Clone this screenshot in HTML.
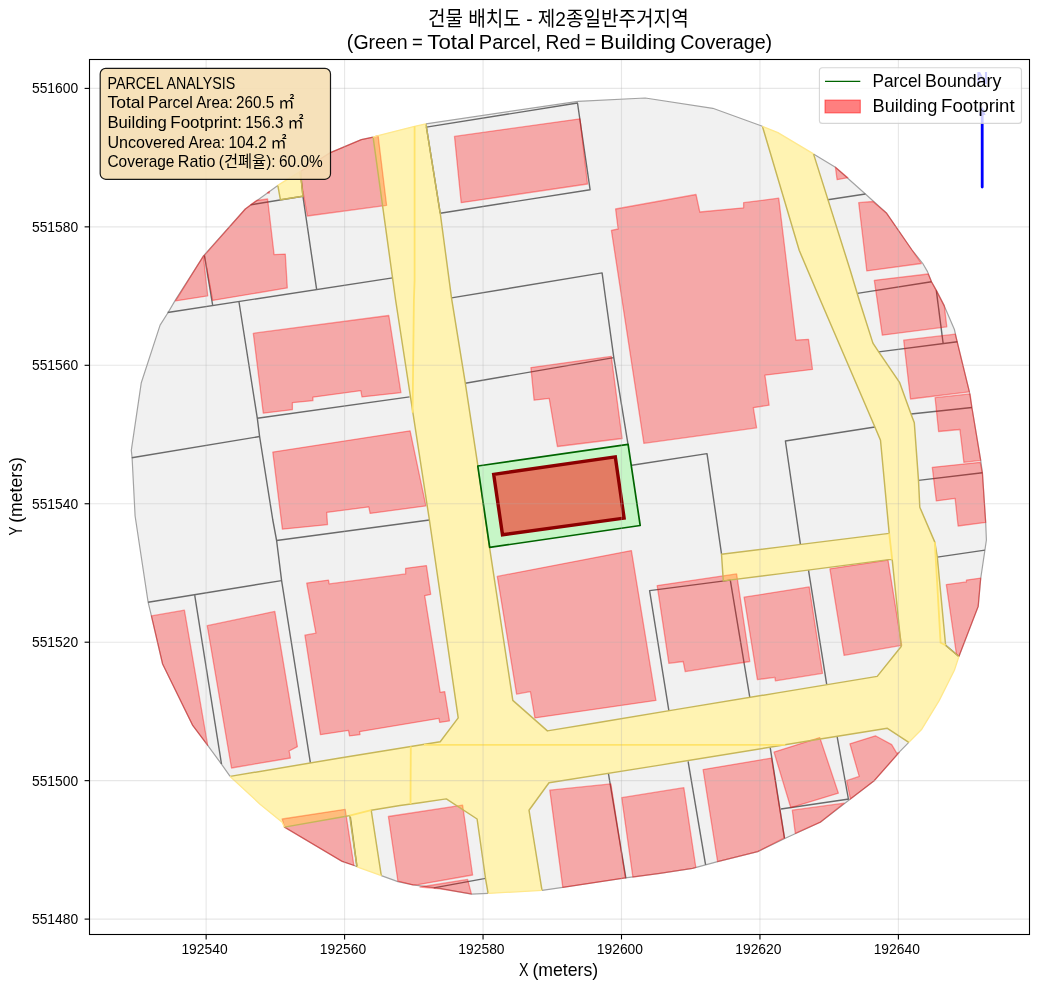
<!DOCTYPE html>
<html lang="ko"><head><meta charset="utf-8"><title>Building layout map</title>
<style>html,body{margin:0;padding:0;background:#fff}body{width:1039px;height:990px;overflow:hidden}svg{display:block}text{font-family:"Liberation Sans","Noto Sans CJK KR",sans-serif;white-space:pre}</style></head><body>
<svg style="will-change:transform" width="1039" height="990" viewBox="0 0 1039 990">
<rect width="1039" height="990" fill="#fff"/>
<defs><clipPath id="ax"><rect x="89.5" y="59.5" width="940.0" height="875.0"/></clipPath></defs>
<g clip-path="url(#ax)" stroke-linejoin="round">
<polygon points="373.1,137.1 378.1,135.6 414.6,126.3 425.9,123.8 578.0,101.3 645.2,98.0 712.8,108.3 762.4,126.3 777.9,132.6 813.5,153.9 835.4,167.2 865.4,194.0 886.7,213.3 912.0,250.0 922.8,263.5 927.5,271.6 931.5,281.7 936.3,290.4 944.3,305.9 954.4,329.5 957.1,341.6 969.4,391.8 971.9,407.5 980.7,460.3 982.4,472.8 985.7,522.7 986.4,540.0 984.9,550.1 980.7,578.5 978.2,606.4 958.9,656.5 954.4,670.3 939.3,700.4 921.8,729.2 908.8,742.4 899.2,752.2 874.2,780.7 850.4,799.0 820.3,822.2 785.3,838.3 757.7,851.6 717.6,861.6 692.6,868.3 660.0,873.3 625.4,877.9 562.8,887.4 542.0,890.4 488.1,893.4 471.4,894.1 440.0,888.4 413.0,884.9 397.9,881.6 381.3,875.6 357.0,866.8 354.3,865.5 342.2,861.4 284.3,827.1 282.2,822.3 260.0,804.2 230.1,776.4 221.3,763.9 207.7,745.4 192.7,725.4 162.6,664.0 151.4,615.9 148.1,602.2 135.1,516.0 132.1,457.8 131.3,450.3 141.3,382.7 160.1,325.1 168.1,312.5 175.2,300.4 203.9,255.4 245.3,209.0 251.5,204.5 277.8,185.4 300.4,171.4 330.4,152.6 361.3,139.6" fill="#f1f1f1"/>
<polygon points="373.1,137.1 378.1,135.6 414.6,126.3 425.9,123.8 440.2,212.8 451.5,297.9 465.3,383.2 477.8,465.3 489.5,547.1 512.8,700.4 547.4,730.9 600.0,722.3 680.0,708.9 779.0,692.6 877.2,676.4 901.2,646.5 892.2,559.6 888.7,559.6 779.0,573.9 723.3,580.9 721.5,554.3 779.0,547.1 889.2,533.4 880.5,440.3 874.9,427.0 820.3,300.0 799.2,250.3 762.4,126.3 777.9,132.6 813.5,153.9 850.0,269.5 859.2,300.0 872.9,343.1 878.7,351.9 899.7,382.7 911.0,414.0 914.3,422.7 918.5,480.4 919.8,507.2 934.8,542.1 937.3,557.1 945.6,645.3 958.9,656.5 954.4,670.3 939.3,700.4 921.8,729.2 908.8,742.4 887.4,728.3 820.3,739.0 660.0,765.1 549.0,782.7 529.0,810.2 542.0,890.4 488.1,893.4 485.6,879.1 477.1,819.0 446.3,798.9 420.0,802.7 400.0,805.5 371.2,810.2 381.3,875.6 357.0,866.8 349.6,815.6 346.3,816.3 284.3,827.1 282.2,822.3 260.0,804.2 230.1,776.4 340.0,758.0 440.2,741.7 458.2,717.9 429.4,520.0 395.6,300.0" fill="#fff"/>
<polygon points="277.8,185.4 300.4,171.4 302.9,196.2 280.4,199.7" fill="#fff"/>
<g fill="none" stroke="#a3a3a3" stroke-width="1.2">
<polyline points="425.9,123.8 578.0,101.3 645.2,98.0 712.8,108.3 762.4,126.3"/>
<polyline points="813.5,153.9 835.4,167.2 865.4,194.0 886.7,213.3 912.0,250.0 922.8,263.5 927.5,271.6 931.5,281.7 936.3,290.4 944.3,305.9 954.4,329.5 957.1,341.6 969.4,391.8 971.9,407.5 980.7,460.3 982.4,472.8 985.7,522.7 986.4,540.0 984.9,550.1 980.7,578.5 978.2,606.4 958.9,656.5"/>
<polyline points="908.8,742.4 899.2,752.2 874.2,780.7 850.4,799.0 820.3,822.2 785.3,838.3 757.7,851.6 717.6,861.6 692.6,868.3 660.0,873.3 625.4,877.9 562.8,887.4 542.0,890.4"/>
<polyline points="488.1,893.4 471.4,894.1 440.0,888.4 413.0,884.9 397.9,881.6 381.3,875.6"/>
<polyline points="357.0,866.8 354.3,865.5 342.2,861.4 284.3,827.1"/>
<polyline points="230.1,776.4 221.3,763.9 207.7,745.4 192.7,725.4 162.6,664.0 151.4,615.9 148.1,602.2 135.1,516.0 132.1,457.8 131.3,450.3 141.3,382.7 160.1,325.1 168.1,312.5 175.2,300.4 203.9,255.4 245.3,209.0 251.5,204.5 277.8,185.4"/>
<polyline points="300.4,171.4 330.4,152.6 361.3,139.6 373.1,137.1"/>
</g>
<g fill="none" stroke="#6a6a6a" stroke-width="1.4">
<polyline points="167.6,312.5 392.6,277.9"/>
<polyline points="204.4,255.4 212.7,305.5"/>
<polyline points="250.7,204.8 302.9,196.2"/>
<polyline points="300.6,172.2 302.9,196.2 316.6,289.2"/>
<polyline points="239.0,302.0 257.3,418.2 259.6,436.5 272.8,520.0 276.6,540.5 281.6,580.6 310.4,762.9"/>
<polyline points="131.8,457.8 259.6,436.5"/>
<polyline points="257.3,418.2 409.6,396.9"/>
<polyline points="276.6,540.5 429.4,520.0"/>
<polyline points="148.1,602.2 281.6,580.6"/>
<polyline points="194.7,595.2 221.5,764.0"/>
<polyline points="440.2,213.3 426.4,127.1 577.5,103.0 590.1,189.7 440.2,213.3"/>
<polyline points="451.5,297.9 602.1,272.9 605.8,300.0 613.8,357.6 628.1,444.8"/>
<polyline points="465.3,383.2 613.8,357.6"/>
<polyline points="631.9,465.3 707.0,453.6 721.5,553.8"/>
<polyline points="800.4,544.2 785.4,441.0 874.9,427.0"/>
<polyline points="827.8,199.7 865.4,194.0"/>
<polyline points="857.4,293.4 931.5,281.7"/>
<polyline points="936.3,290.4 943.1,343.1"/>
<polyline points="878.7,351.9 957.4,341.8"/>
<polyline points="911.0,414.0 971.9,407.5"/>
<polyline points="918.5,480.4 982.4,472.8"/>
<polyline points="937.3,557.1 984.9,550.1"/>
<polyline points="945.6,645.3 958.9,656.5"/>
<polyline points="668.9,710.9 649.6,590.6 730.3,580.1 749.8,697.4"/>
<polyline points="808.5,570.1 826.7,684.3"/>
<polyline points="350.3,816.5 357.0,866.8"/>
<polyline points="433.8,887.9 485.6,878.4"/>
<polyline points="608.4,773.4 625.9,878.4"/>
<polyline points="688.1,761.4 705.6,864.8"/>
<polyline points="770.2,747.6 784.5,838.3"/>
<polyline points="781.0,809.0 849.1,799.0"/>
<polyline points="837.2,737.0 848.4,799.0"/>
</g>
<g fill="#ff0000" fill-opacity="0.3" stroke="#ff0000" stroke-opacity="0.36" stroke-width="1.3">
<polygon points="250.7,204.8 256.5,200.5 267.6,199.0 274.1,254.6 285.3,254.1 287.3,287.9 212.7,300.4 204.4,255.4 245.3,209.0"/>
<polygon points="267.4,192.9 269.4,191.5 269.2,193.2"/>
<polygon points="203.4,255.9 207.7,295.9 175.6,300.9"/>
<polygon points="299.5,172.0 330.4,152.6 361.3,139.6 373.1,137.1 378.1,135.6 386.6,205.3 307.4,216.0"/>
<polygon points="454.5,136.4 580.0,118.8 587.5,184.0 461.2,202.7"/>
<polygon points="615.6,209.0 696.0,194.5 699.8,212.0 743.6,207.8 743.6,202.7 778.7,198.2 795.9,340.1 808.5,339.3 812.5,369.4 764.9,375.2 769.1,405.2 753.3,407.7 756.6,427.8 643.9,443.3 611.4,230.3 618.1,229.0"/>
<polygon points="835.4,167.2 847.9,177.7 837.1,179.7"/>
<polygon points="858.7,202.7 872.9,201.5 886.7,213.3 912.0,250.0 921.4,263.5 866.8,270.9"/>
<polygon points="874.3,280.3 928.2,274.0 931.5,281.7 936.3,290.4 944.3,305.9 946.8,326.8 882.3,335.2"/>
<polygon points="903.7,340.2 955.3,334.2 957.2,341.7 969.4,391.8 910.5,399.0"/>
<polygon points="935.1,397.7 970.1,393.9 971.9,407.7 980.7,460.3 963.9,462.3 959.9,429.5 938.6,431.5"/>
<polygon points="932.3,467.3 980.2,462.3 982.4,472.8 985.7,522.4 958.1,526.0 955.1,498.4 936.3,500.9"/>
<polygon points="946.3,584.6 966.4,581.9 966.4,580.1 980.7,578.1 978.2,606.4 958.9,656.5 956.4,654.0"/>
<polygon points="253.3,333.3 388.8,315.5 400.9,392.7 362.0,396.9 360.8,390.7 312.9,397.2 312.9,400.7 292.4,402.7 292.4,409.7 263.3,413.2"/>
<polygon points="272.8,452.1 410.1,430.8 425.9,505.9 370.1,513.4 368.8,506.9 326.7,512.4 327.5,524.7 282.4,529.2"/>
<polygon points="530.9,367.6 611.3,356.4 622.1,438.5 557.4,446.5 549.2,398.4 534.1,400.2"/>
<polygon points="151.4,615.9 184.4,610.2 207.7,745.4 192.7,725.4 162.6,664.0"/>
<polygon points="207.2,625.7 274.8,611.4 297.4,746.7 289.1,751.0 290.4,758.0 231.5,768.0"/>
<polygon points="306.7,583.1 328.5,580.1 329.2,583.9 405.6,573.9 405.6,568.3 426.4,565.6 430.7,594.4 424.7,595.7 440.2,692.3 444.7,691.6 449.5,720.9 439.7,722.4 438.9,718.4 359.5,731.7 360.0,734.7 349.5,735.9 348.5,730.4 320.4,734.7 304.9,635.2 315.9,633.2"/>
<polygon points="497.3,576.4 631.4,550.6 655.9,700.4 534.9,717.9 530.4,691.6 516.6,694.1"/>
<polygon points="657.2,585.6 736.6,573.9 749.8,661.5 685.2,671.6 683.2,661.5 668.9,663.3"/>
<polygon points="744.1,597.2 809.2,586.9 822.5,673.3 775.4,680.8 774.9,677.3 757.4,679.6"/>
<polygon points="829.9,568.8 888.0,560.1 901.7,645.3 844.1,655.3"/>
<polygon points="774.0,752.1 819.8,737.6 838.4,793.2 790.8,807.7"/>
<polygon points="703.1,769.6 771.5,758.1 784.5,837.8 757.7,851.6 717.6,861.6"/>
<polygon points="849.9,743.8 875.4,735.8 891.7,744.6 896.7,753.1 899.2,752.6 874.2,780.7 850.4,799.0 846.6,780.7 859.2,776.4"/>
<polygon points="282.2,819.0 345.2,809.3 353.9,865.5 342.2,861.4 284.3,827.1"/>
<polygon points="388.4,816.5 462.6,805.2 472.6,875.0 418.0,884.7 413.0,884.9 397.9,881.2"/>
<polygon points="420.0,887.0 467.6,879.4 471.4,893.8 440.0,888.8"/>
<polygon points="549.8,790.2 610.9,783.9 625.4,877.9 562.8,887.4"/>
<polygon points="621.7,797.7 683.8,787.7 695.8,867.3 692.6,868.3 660.0,873.3 632.9,877.1"/>
<polygon points="792.3,810.2 844.1,803.2 820.3,822.2 795.3,833.3"/>
</g>
<polygon points="373.1,137.1 378.1,135.6 414.6,126.3 425.9,123.8 440.2,212.8 451.5,297.9 465.3,383.2 477.8,465.3 489.5,547.1 512.8,700.4 547.4,730.9 600.0,722.3 680.0,708.9 779.0,692.6 877.2,676.4 901.2,646.5 892.2,559.6 888.7,559.6 779.0,573.9 723.3,580.9 721.5,554.3 779.0,547.1 889.2,533.4 880.5,440.3 874.9,427.0 820.3,300.0 799.2,250.3 762.4,126.3 777.9,132.6 813.5,153.9 850.0,269.5 859.2,300.0 872.9,343.1 878.7,351.9 899.7,382.7 911.0,414.0 914.3,422.7 918.5,480.4 919.8,507.2 934.8,542.1 937.3,557.1 945.6,645.3 958.9,656.5 954.4,670.3 939.3,700.4 921.8,729.2 908.8,742.4 887.4,728.3 820.3,739.0 660.0,765.1 549.0,782.7 529.0,810.2 542.0,890.4 488.1,893.4 485.6,879.1 477.1,819.0 446.3,798.9 420.0,802.7 400.0,805.5 371.2,810.2 381.3,875.6 357.0,866.8 349.6,815.6 346.3,816.3 284.3,827.1 282.2,822.3 260.0,804.2 230.1,776.4 340.0,758.0 440.2,741.7 458.2,717.9 429.4,520.0 395.6,300.0" fill="#ffd700" fill-opacity="0.3"/>
<polygon points="277.8,185.4 300.4,171.4 302.9,196.2 280.4,199.7" fill="#ffd700" fill-opacity="0.3"/>
<g fill="none" stroke="#c6b658" stroke-width="1.45">
<polyline points="425.9,123.8 440.2,212.8 451.5,297.9 465.3,383.2 477.8,465.3 489.5,547.1 512.8,700.4 547.4,730.9 600.0,722.3 680.0,708.9 779.0,692.6 877.2,676.4 901.2,646.5 892.2,559.6 888.7,559.6 779.0,573.9 723.3,580.9 721.5,554.3 779.0,547.1 889.2,533.4 880.5,440.3 874.9,427.0 820.3,300.0 799.2,250.3 762.4,126.3"/>
<polyline points="813.5,153.9 850.0,269.5 859.2,300.0 872.9,343.1 878.7,351.9 899.7,382.7 911.0,414.0 914.3,422.7 918.5,480.4 919.8,507.2 934.8,542.1 937.3,557.1 945.6,645.3 958.9,656.5"/>
<polyline points="908.8,742.4 887.4,728.3 820.3,739.0 660.0,765.1 549.0,782.7 529.0,810.2 542.0,890.4"/>
<polyline points="488.1,893.4 485.6,879.1 477.1,819.0 446.3,798.9 420.0,802.7 400.0,805.5 371.2,810.2 381.3,875.6"/>
<polyline points="357.0,866.8 349.6,815.6 346.3,816.3 284.3,827.1"/>
<polyline points="230.1,776.4 340.0,758.0 440.2,741.7 458.2,717.9 429.4,520.0 395.6,300.0 373.1,137.1"/>
<polyline points="300.4,171.4 302.9,196.2 280.4,199.7 277.8,185.4"/>
</g>
<g fill="none" stroke="#ffe88c" stroke-width="1.3">
<polyline points="373.1,137.1 378.1,135.6 414.6,126.3 425.9,123.8"/>
<polyline points="762.4,126.3 777.9,132.6 813.5,153.9"/>
<polyline points="958.9,656.5 954.4,670.3 939.3,700.4 921.8,729.2 908.8,742.4"/>
<polyline points="542.0,890.4 488.1,893.4"/>
<polyline points="381.3,875.6 357.0,866.8"/>
<polyline points="284.3,827.1 282.2,822.3 260.0,804.2 230.1,776.4"/>
<polyline points="277.8,185.4 300.4,171.4"/>
</g>
<g fill="none" stroke="#ffe36a" stroke-width="1.8">
<polyline points="414.6,126.3 414.6,280.4 413.9,300.0 412.6,412.7"/>
<polyline points="424.0,744.9 785.3,744.9"/>
<polyline points="410.8,746.5 410.5,804.0"/>
<polyline points="889.2,533.4 892.2,559.6"/>
<polyline points="934.8,542.1 940.6,642.7 945.6,645.3"/>
<polyline points="349.6,815.6 371.2,810.2"/>
</g>
<polygon points="477.8,466.0 628.1,444.3 640.2,525.5 489.7,547.4" fill="#c7f6c7" stroke="#006400" stroke-width="1.7"/>
<polygon points="493.7,474.4 615.3,456.9 624.1,518.1 502.5,534.8" fill="#ff0000" fill-opacity="0.5" stroke="#8b0000" stroke-width="3.4" stroke-linejoin="miter"/>
<g stroke="#b0b0b0" stroke-opacity="0.3" stroke-width="1.1">
<line x1="206.15" y1="59.5" x2="206.15" y2="934.5"/>
<line x1="344.60" y1="59.5" x2="344.60" y2="934.5"/>
<line x1="483.05" y1="59.5" x2="483.05" y2="934.5"/>
<line x1="621.50" y1="59.5" x2="621.50" y2="934.5"/>
<line x1="759.95" y1="59.5" x2="759.95" y2="934.5"/>
<line x1="898.40" y1="59.5" x2="898.40" y2="934.5"/>
<line x1="89.5" y1="88.40" x2="1029.5" y2="88.40"/>
<line x1="89.5" y1="226.85" x2="1029.5" y2="226.85"/>
<line x1="89.5" y1="365.30" x2="1029.5" y2="365.30"/>
<line x1="89.5" y1="503.75" x2="1029.5" y2="503.75"/>
<line x1="89.5" y1="642.20" x2="1029.5" y2="642.20"/>
<line x1="89.5" y1="780.65" x2="1029.5" y2="780.65"/>
<line x1="89.5" y1="919.10" x2="1029.5" y2="919.10"/>
</g>
<line x1="982.2" y1="187" x2="982.2" y2="110" stroke="#0000ff" stroke-width="2.8" stroke-linecap="round"/>
<polygon points="982.2,106.5 985.6,115 978.8,115" fill="#0000ff"/>
<text x="982.2" y="84" font-size="16.5" font-weight="bold" fill="#0000ff" text-anchor="middle">N</text>
</g>
<rect x="89.5" y="59.5" width="940.0" height="875.0" fill="none" stroke="#000" stroke-width="1.1"/>
<g stroke="#000" stroke-width="1.1">
<line x1="206.15" y1="934.5" x2="206.15" y2="939.4"/>
<line x1="344.60" y1="934.5" x2="344.60" y2="939.4"/>
<line x1="483.05" y1="934.5" x2="483.05" y2="939.4"/>
<line x1="621.50" y1="934.5" x2="621.50" y2="939.4"/>
<line x1="759.95" y1="934.5" x2="759.95" y2="939.4"/>
<line x1="898.40" y1="934.5" x2="898.40" y2="939.4"/>
<line x1="84.6" y1="88.40" x2="89.5" y2="88.40"/>
<line x1="84.6" y1="226.85" x2="89.5" y2="226.85"/>
<line x1="84.6" y1="365.30" x2="89.5" y2="365.30"/>
<line x1="84.6" y1="503.75" x2="89.5" y2="503.75"/>
<line x1="84.6" y1="642.20" x2="89.5" y2="642.20"/>
<line x1="84.6" y1="780.65" x2="89.5" y2="780.65"/>
<line x1="84.6" y1="919.10" x2="89.5" y2="919.10"/>
</g>
<text x="181.42" y="954.10" font-size="14.72" textLength="46.25" lengthAdjust="spacingAndGlyphs" fill="#000">192540</text>
<text x="319.87" y="954.10" font-size="14.72" textLength="46.25" lengthAdjust="spacingAndGlyphs" fill="#000">192560</text>
<text x="458.32" y="954.10" font-size="14.72" textLength="46.25" lengthAdjust="spacingAndGlyphs" fill="#000">192580</text>
<text x="596.77" y="954.10" font-size="14.72" textLength="46.25" lengthAdjust="spacingAndGlyphs" fill="#000">192600</text>
<text x="735.22" y="954.10" font-size="14.72" textLength="46.25" lengthAdjust="spacingAndGlyphs" fill="#000">192620</text>
<text x="873.67" y="954.10" font-size="14.72" textLength="46.25" lengthAdjust="spacingAndGlyphs" fill="#000">192640</text>
<text x="31.95" y="93.45" font-size="14.72" textLength="46.25" lengthAdjust="spacingAndGlyphs" fill="#000">551600</text>
<text x="31.95" y="231.90" font-size="14.72" textLength="46.25" lengthAdjust="spacingAndGlyphs" fill="#000">551580</text>
<text x="31.95" y="370.35" font-size="14.72" textLength="46.25" lengthAdjust="spacingAndGlyphs" fill="#000">551560</text>
<text x="31.95" y="508.80" font-size="14.72" textLength="46.25" lengthAdjust="spacingAndGlyphs" fill="#000">551540</text>
<text x="31.95" y="647.25" font-size="14.72" textLength="46.25" lengthAdjust="spacingAndGlyphs" fill="#000">551520</text>
<text x="31.95" y="785.70" font-size="14.72" textLength="46.25" lengthAdjust="spacingAndGlyphs" fill="#000">551500</text>
<text x="31.95" y="924.15" font-size="14.72" textLength="46.25" lengthAdjust="spacingAndGlyphs" fill="#000">551480</text>
<text y="975.80" font-size="17.67" fill="#000"><tspan x="519.09" textLength="9.55" lengthAdjust="spacingAndGlyphs">X</tspan> <tspan x="532.38" textLength="65.73" lengthAdjust="spacingAndGlyphs">(meters)</tspan></text>
<g transform="translate(22.1,496.3) rotate(-90)"><text y="0.00" font-size="17.67" fill="#000"><tspan x="-39.16" textLength="8.85" lengthAdjust="spacingAndGlyphs">Y</tspan> <tspan x="-26.57" textLength="65.73" lengthAdjust="spacingAndGlyphs">(meters)</tspan></text></g>
<text x="427.9" y="26" font-size="20.61" fill="#000" textLength="260.8" lengthAdjust="spacingAndGlyphs" style="font-family:'Liberation Sans','Noto Sans CJK KR',sans-serif">건물 배치도 - 제2종일반주거지역</text>
<text y="49.40" font-size="20.61" fill="#000"><tspan x="346.86" textLength="60.91" lengthAdjust="spacingAndGlyphs">(Green</tspan> <tspan x="412.12" textLength="10.79" lengthAdjust="spacingAndGlyphs">=</tspan> <tspan x="427.26" textLength="47.22" lengthAdjust="spacingAndGlyphs">Total</tspan> <tspan x="478.83" textLength="62.40" lengthAdjust="spacingAndGlyphs">Parcel,</tspan> <tspan x="545.59" textLength="35.17" lengthAdjust="spacingAndGlyphs">Red</tspan> <tspan x="585.11" textLength="10.79" lengthAdjust="spacingAndGlyphs">=</tspan> <tspan x="600.26" textLength="75.66" lengthAdjust="spacingAndGlyphs">Building</tspan> <tspan x="680.27" textLength="91.87" lengthAdjust="spacingAndGlyphs">Coverage)</tspan></text>
<rect x="100.2" y="68.4" width="230.3" height="110.9" rx="5.5" ry="5.5" fill="#f5deb3" fill-opacity="0.9" stroke="#000" stroke-opacity="0.9" stroke-width="1.2"/>
<text y="88.80" font-size="16.20" fill="#000"><tspan x="107.40" textLength="55.71" lengthAdjust="spacingAndGlyphs">PARCEL</tspan> <tspan x="166.53" textLength="68.73" lengthAdjust="spacingAndGlyphs">ANALYSIS</tspan></text>
<text y="108.40" font-size="16.20" fill="#000"><tspan x="107.40" textLength="37.12" lengthAdjust="spacingAndGlyphs">Total</tspan> <tspan x="147.94" textLength="44.80" lengthAdjust="spacingAndGlyphs">Parcel</tspan> <tspan x="196.16" textLength="36.53" lengthAdjust="spacingAndGlyphs">Area:</tspan> <tspan x="236.12" textLength="38.17" lengthAdjust="spacingAndGlyphs">260.5</tspan> </text>
<text x="278.2" y="108.40" font-size="16.20" fill="#000" style="font-family:'Noto Sans CJK KR','Liberation Sans',sans-serif">㎡</text>
<text y="128.00" font-size="16.20" fill="#000"><tspan x="107.40" textLength="59.47" lengthAdjust="spacingAndGlyphs">Building</tspan> <tspan x="170.29" textLength="71.65" lengthAdjust="spacingAndGlyphs">Footprint:</tspan> <tspan x="245.36" textLength="38.17" lengthAdjust="spacingAndGlyphs">156.3</tspan> </text>
<text x="287.4" y="128.00" font-size="16.20" fill="#000" style="font-family:'Noto Sans CJK KR','Liberation Sans',sans-serif">㎡</text>
<text y="147.60" font-size="16.20" fill="#000"><tspan x="107.40" textLength="77.68" lengthAdjust="spacingAndGlyphs">Uncovered</tspan> <tspan x="188.51" textLength="36.53" lengthAdjust="spacingAndGlyphs">Area:</tspan> <tspan x="228.46" textLength="38.17" lengthAdjust="spacingAndGlyphs">104.2</tspan> </text>
<text x="270.5" y="147.60" font-size="16.20" fill="#000" style="font-family:'Noto Sans CJK KR','Liberation Sans',sans-serif">㎡</text>
<text y="167.20" font-size="16.20" fill="#000"><tspan x="107.40" textLength="67.05" lengthAdjust="spacingAndGlyphs">Coverage</tspan> <tspan x="177.87" textLength="37.53" lengthAdjust="spacingAndGlyphs">Ratio</tspan> <tspan x="218.82" textLength="5.16" lengthAdjust="spacingAndGlyphs">(</tspan></text>
<text x="223.98" y="167.20" font-size="16.20" fill="#000" textLength="42.2" lengthAdjust="spacingAndGlyphs" style="font-family:'Liberation Sans','Noto Sans CJK KR',sans-serif">건폐율</text>
<text y="167.20" font-size="16.20" fill="#000"><tspan x="266.16" textLength="9.41" lengthAdjust="spacingAndGlyphs">):</tspan> <tspan x="278.99" textLength="43.76" lengthAdjust="spacingAndGlyphs">60.0%</tspan></text>
<rect x="819.4" y="67.8" width="202.1" height="55.6" rx="3" ry="3" fill="#fff" fill-opacity="0.8" stroke="#ccc" stroke-opacity="0.8" stroke-width="1.1"/>
<line x1="825" y1="81.4" x2="860.3" y2="81.4" stroke="#006400" stroke-width="1.4"/>
<rect x="825" y="100.1" width="35.3" height="12.8" fill="#ff0000" fill-opacity="0.5" stroke="#ff0000" stroke-opacity="0.5" stroke-width="1.1"/>
<text y="86.90" font-size="17.67" fill="#000"><tspan x="872.50" textLength="48.88" lengthAdjust="spacingAndGlyphs">Parcel</tspan> <tspan x="925.11" textLength="76.22" lengthAdjust="spacingAndGlyphs">Boundary</tspan></text>
<text y="111.80" font-size="17.67" fill="#000"><tspan x="872.50" textLength="64.88" lengthAdjust="spacingAndGlyphs">Building</tspan> <tspan x="941.11" textLength="73.53" lengthAdjust="spacingAndGlyphs">Footprint</tspan></text>
</svg></body></html>
